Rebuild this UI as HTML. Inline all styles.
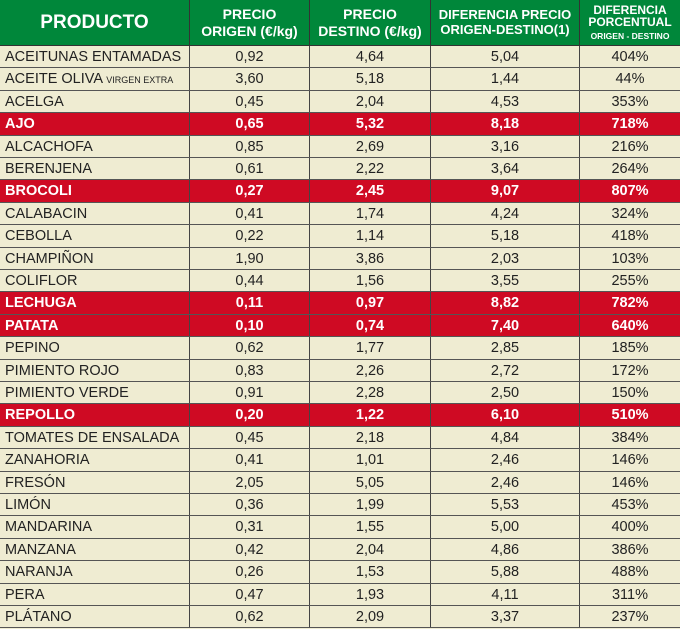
<!DOCTYPE html>
<html><head><meta charset="utf-8"><style>
body{margin:0;width:680px;height:627px;overflow:hidden;background:#efecd2;font-family:"Liberation Sans",Arial,sans-serif;}
.w{position:relative;width:680px;height:627px;}
.h{position:absolute;top:0;height:46px;background:#00873a;color:#fff;font-weight:bold;display:flex;align-items:center;justify-content:center;text-align:center;line-height:1.15;border-right:1.5px solid #333;border-bottom:1.5px solid #333;box-sizing:border-box;}
.r{position:absolute;left:0;width:680px;height:22.4px;border-bottom:1px solid #555;box-sizing:border-box;font-size:14.5px;color:#222;}
.r.red{background:#cf0a23;color:#fff;font-weight:bold;}
.c{position:absolute;top:0;height:100%;line-height:23px;text-align:center;white-space:nowrap;border-right:1.5px solid #444;box-sizing:border-box;}
.c0{left:0;width:190px;text-align:left;padding-left:5px;}
.c1{left:190px;width:120px}.c2{left:310px;width:121px}.c3{left:431px;width:149px}.c4{left:580px;width:100px;border-right:none}
</style></head><body><div class="w">
<div class="h" style="left:0;width:190px;font-size:19px"><div>PRODUCTO</div></div>
<div class="h" style="left:190px;width:120px;font-size:14px"><div>PRECIO<br>ORIGEN (€/kg)</div></div>
<div class="h" style="left:310px;width:121px;font-size:14px"><div>PRECIO<br>DESTINO (€/kg)</div></div>
<div class="h" style="left:431px;width:149px;font-size:13px"><div>DIFERENCIA PRECIO<br>ORIGEN-DESTINO(1)</div></div>
<div class="h" style="left:580px;width:100px;font-size:12px;border-right:none;line-height:1.05"><div>DIFERENCIA<br>PORCENTUAL<br><span style="font-size:8.5px">ORIGEN - DESTINO</span></div></div>
<div id="rows"></div>
</div>
<script>
var d=[["ACEITUNAS ENTAMADAS","0,92","4,64","5,04","404%"],["ACEITE OLIVA <span style='font-size:9px'>VIRGEN EXTRA</span>","3,60","5,18","1,44","44%"],["ACELGA","0,45","2,04","4,53","353%"],["AJO","0,65","5,32","8,18","718%",1],["ALCACHOFA","0,85","2,69","3,16","216%"],["BERENJENA","0,61","2,22","3,64","264%"],["BROCOLI","0,27","2,45","9,07","807%",1],["CALABACIN","0,41","1,74","4,24","324%"],["CEBOLLA","0,22","1,14","5,18","418%"],["CHAMPIÑON","1,90","3,86","2,03","103%"],["COLIFLOR","0,44","1,56","3,55","255%"],["LECHUGA","0,11","0,97","8,82","782%",1],["PATATA","0,10","0,74","7,40","640%",1],["PEPINO","0,62","1,77","2,85","185%"],["PIMIENTO ROJO","0,83","2,26","2,72","172%"],["PIMIENTO VERDE","0,91","2,28","2,50","150%"],["REPOLLO","0,20","1,22","6,10","510%",1],["TOMATES DE ENSALADA","0,45","2,18","4,84","384%"],["ZANAHORIA","0,41","1,01","2,46","146%"],["FRESÓN","2,05","5,05","2,46","146%"],["LIMÓN","0,36","1,99","5,53","453%"],["MANDARINA","0,31","1,55","5,00","400%"],["MANZANA","0,42","2,04","4,86","386%"],["NARANJA","0,26","1,53","5,88","488%"],["PERA","0,47","1,93","4,11","311%"],["PLÁTANO","0,62","2,09","3,37","237%"]];
var h="";d.forEach(function(r,i){h+='<div class="r'+(r[5]?' red':'')+'" style="top:'+(46+i*22.4)+'px">';for(var j=0;j<5;j++)h+='<div class="c c'+j+'">'+r[j]+'</div>';h+='</div>';});
document.getElementById("rows").innerHTML=h;
</script>
</body></html>
